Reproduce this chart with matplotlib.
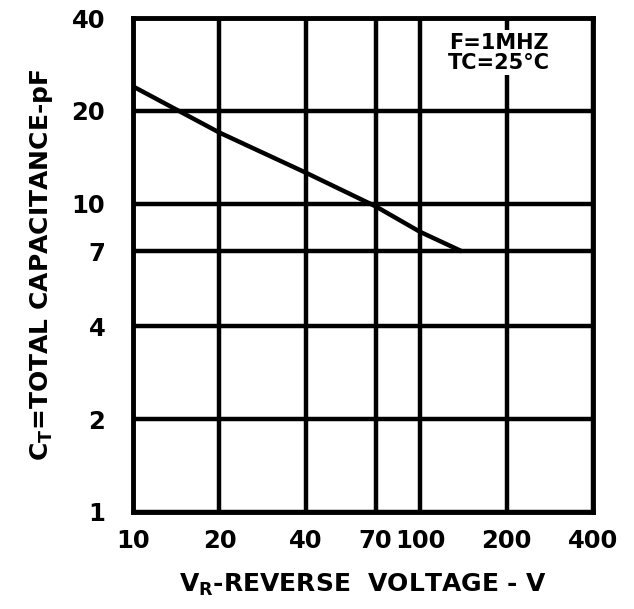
import matplotlib
matplotlib.use('Agg')
import matplotlib.pyplot as plt
from matplotlib.ticker import FixedLocator, NullLocator

# datos
voltaje = [10, 20, 40, 70, 100, 140]
capacitancia = [24, 17, 12.6, 9.8, 8.1, 7]

x_ticks = [10, 20, 40, 70, 100, 200, 400]
x_labels = ['10', '20', '40', '70', '100', '200', '400']
y_ticks = [1, 2, 4, 7, 10, 20, 40]
y_labels = ['1', '2', '4', '7', '10', '20', '40']

plt.rcParams['mathtext.fontset'] = 'dejavusans'

fig = plt.figure(figsize=(6.34, 6.09), dpi=100)
ax = fig.add_axes([0.2098, 0.1593, 0.7255, 0.8111])

ax.set_xscale('log')
ax.set_yscale('log')
ax.set_xlim(10, 400)
ax.set_ylim(1, 40)

# curva de capacitancia
ax.plot(voltaje, capacitancia, color='black', linewidth=3.2, solid_capstyle='butt', zorder=3)

# rejilla gruesa
ax.xaxis.set_major_locator(FixedLocator(x_ticks))
ax.yaxis.set_major_locator(FixedLocator(y_ticks))
ax.xaxis.set_minor_locator(NullLocator())
ax.yaxis.set_minor_locator(NullLocator())
ax.set_xticklabels(x_labels)
ax.set_yticklabels(y_labels)
ax.grid(True, which='major', color='black', linewidth=3.2)

for s in ax.spines.values():
    s.set_linewidth(3.5)

ax.tick_params(axis='both', length=0, labelsize=17.5)
ax.tick_params(axis='x', pad=12)
ax.tick_params(axis='y', pad=20)
for lbl in ax.get_xticklabels() + ax.get_yticklabels():
    lbl.set_fontweight('bold')

ax.set_xlabel(r'$\mathbf{V_R}$-REVERSE  VOLTAGE - V', fontsize=18, fontweight='bold', labelpad=14)
ax.set_ylabel(r'$\mathbf{C_T}$=TOTAL CAPACITANCE-pF', fontsize=18, fontweight='bold', labelpad=12)

# condiciones de prueba
ax.text(0.795, 0.93, 'F=1MHZ\nTC=25°C', transform=ax.transAxes, ha='center', va='center',
        fontsize=15, fontweight='bold', linespacing=1.0, zorder=4,
        bbox=dict(facecolor='white', edgecolor='none', pad=2))

fig.savefig('out.png', dpi=100)
